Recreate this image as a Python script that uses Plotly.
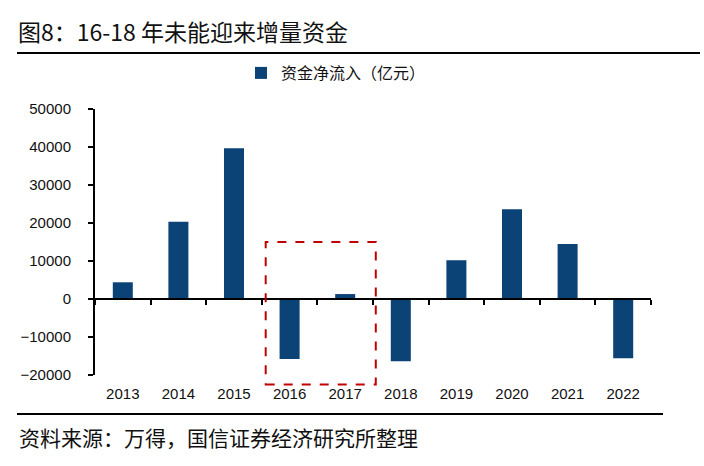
import plotly.graph_objects as go

years = ["2013", "2014", "2015", "2016", "2017", "2018", "2019", "2020", "2021", "2022"]
net_inflow = [4400, 20300, 39700, -15800, 1300, -16400, 10200, 23600, 14500, -15600]
series_name = "资金净流入（亿元）"
y_min, y_max, y_step = -20000, 50000, 10000

title_text = "图8：16-18 年未能迎来增量资金"
source_text = "资料来源：万得，国信证券经济研究所整理"

# highlight box around 2016-2017 (category units / data units)
box_x = [2.57, 4.55]
box_y = [-22500, 15000]

BAR = "#0B4376"
CJK = "Noto Sans CJK SC"
LAT = "Liberation Sans"

W, H = 704, 466
ML, MR, MT, MB = 95, 53, 109, 91
pw, ph = W - ML - MR, H - MT - MB

def px_x(x):  # pixel -> paper
    return (x - ML) / pw

def px_y(y):
    return (H - MB - y) / ph

def cat_x(c):
    return (c + 0.5) / len(years)

def val_y(v):
    return (v - y_min) / (y_max - y_min)

fig = go.Figure()
fig.add_trace(go.Bar(x=years, y=net_inflow, name=series_name, marker=dict(color=BAR, line=dict(width=0)),
                     xaxis="x", yaxis="y"))
fig.add_trace(go.Scatter(x=years, y=net_inflow, mode="markers", marker=dict(opacity=0, size=1),
                         showlegend=False, hoverinfo="skip", xaxis="x2", yaxis="y"))

fig.update_layout(
    width=W, height=H,
    margin=dict(l=ML, r=MR, t=MT, b=MB),
    paper_bgcolor="white", plot_bgcolor="white",
    bargap=0.64,
    showlegend=True,
    legend=dict(orientation="h", x=px_x(336), xanchor="center", y=px_y(73), yanchor="middle",
                font=dict(family=CJK, size=16, color="#111"), bgcolor="rgba(0,0,0,0)",
                itemwidth=30),
    title=dict(text=title_text, xref="container", yref="container", x=18 / W, xanchor="left",
               y=1 - 33 / H, yanchor="middle", font=dict(family=CJK, size=23, color="#111")),
    xaxis=dict(type="category", categoryorder="array", categoryarray=years,
               range=[-0.5, len(years) - 0.5], showline=False, ticks="", showgrid=False,
               zeroline=False, tickfont=dict(family=LAT, size=15, color="#111"),
               ticklabelstandoff=8),
    xaxis2=dict(type="category", categoryorder="array", categoryarray=years,
                range=[-0.5, len(years) - 0.5], overlaying="x", anchor="free",
                position=val_y(0), showline=True, linecolor="#000", linewidth=2,
                ticks="outside", ticklen=5, tickwidth=1.5, tickcolor="#000",
                tickson="boundaries", showticklabels=False, showgrid=False, zeroline=False),
    yaxis=dict(range=[y_min, y_max], dtick=y_step, tick0=0, showline=True, linecolor="#000",
               linewidth=2, ticks="outside", ticklen=5, tickwidth=1.5, tickcolor="#000",
               showgrid=False, zeroline=False, tickformat="d",
               tickfont=dict(family=LAT, size=15, color="#111"), ticklabelstandoff=14),
    shapes=[
        dict(type="line", xref="paper", yref="paper", x0=px_x(17), x1=px_x(700),
             y0=px_y(53), y1=px_y(53), line=dict(color="#000", width=2)),
        dict(type="line", xref="paper", yref="paper", x0=px_x(17), x1=px_x(663),
             y0=px_y(414), y1=px_y(414), line=dict(color="#000", width=2)),
        dict(type="rect", xref="paper", yref="paper",
             x0=cat_x(box_x[0]), x1=cat_x(box_x[1]), y0=val_y(box_y[0]), y1=val_y(box_y[1]),
             line=dict(color="#C00000", width=2, dash="dash"), fillcolor="rgba(0,0,0,0)"),
    ],
    annotations=[
        dict(text=source_text, xref="paper", yref="paper", x=px_x(17), xanchor="left",
             y=px_y(437), yanchor="middle", showarrow=False,
             font=dict(family=CJK, size=21, color="#111")),
    ],
)

fig.write_html("out.html")
